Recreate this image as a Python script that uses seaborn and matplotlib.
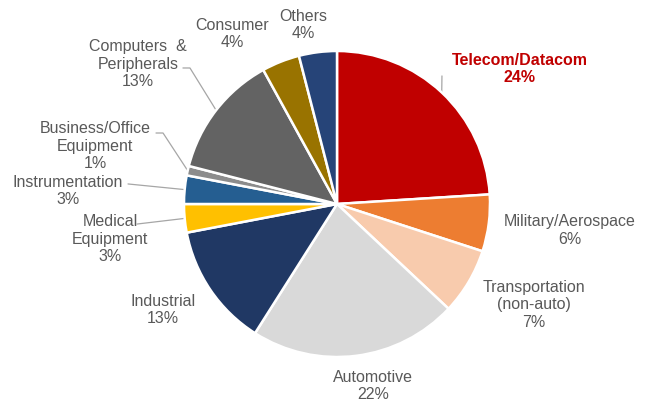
import numpy as np
import matplotlib
matplotlib.use("Agg")
import matplotlib.pyplot as plt
import seaborn as sns

categories = ["Telecom/Datacom", "Military/Aerospace", "Transportation\n(non-auto)",
              "Automotive", "Industrial", "Medical\nEquipment", "Instrumentation",
              "Business/Office\nEquipment", "Computers  &\nPeripherals", "Consumer", "Others"]
shares = [24, 6, 7, 22, 13, 3, 3, 1, 13, 4, 4]
colors = ["#C00000", "#ED7D31", "#F8CBAD", "#D9D9D9", "#203864", "#FFC000",
          "#255E91", "#8C8C8C", "#636363", "#997300", "#264478"]

sns.set_theme(style="white")
plt.rcParams['font.family'] = ['Liberation Sans', 'DejaVu Sans']

W, H = 653, 403
fig = plt.figure(figsize=(W / 100, H / 100), dpi=100)
cx, cy, r = 337, 204, 153
ax = fig.add_axes([(cx - r) / W, (H - cy - r) / H, 2 * r / W, 2 * r / H])
ax.axis("off")

palette = sns.color_palette(colors)
wedges, _ = ax.pie(shares, colors=palette, startangle=90, counterclock=False,
                   radius=1.0, wedgeprops=dict(edgecolor="white", linewidth=1.8))

# label anchor positions (layout, in units of pie radius)
label_pos = [(1.196, 0.882), (1.523, -0.174), (1.288, -0.660), (0.235, -1.190),
             (-1.137, -0.693), (-1.484, -0.229), (-1.758, 0.085), (-1.582, 0.379),
             (-1.301, 0.915), (-0.686, 1.111), (-0.222, 1.170)]
# leader line elbows (layout) for selected labels
leaders = {0: [(0.686, 0.837)],
           5: [(-1.307, -0.131)],
           6: [(-1.366, 0.131)],
           7: [(-1.137, 0.464), (-1.183, 0.464)],
           8: [(-0.961, 0.889), (-1.007, 0.889)]}

txtcol = "#595959"
for i, (cat, val) in enumerate(zip(categories, shares)):
    lx, ly = label_pos[i]
    s = f"{cat}\n{val}%"
    if i == 0:
        ax.text(lx, ly, s, ha="center", va="center", fontsize=11.5, color="#C00000",
                fontweight="bold", linespacing=1.2)
    else:
        ax.text(lx, ly, s, ha="center", va="center", fontsize=11.5, color=txtcol,
                linespacing=1.2)
    if i in leaders:
        w = wedges[i]
        mid = np.deg2rad((w.theta1 + w.theta2) / 2)
        pts = [(np.cos(mid) * 1.0, np.sin(mid) * 1.0)] + leaders[i]
        xs, ys = zip(*pts)
        ax.plot(xs, ys, color="#A6A6A6", lw=0.9, clip_on=False, zorder=0)

ax.set_xlim(-1, 1)
ax.set_ylim(-1, 1)
ax.set_aspect("equal")

fig.savefig("out.png", dpi=100, facecolor="white")
